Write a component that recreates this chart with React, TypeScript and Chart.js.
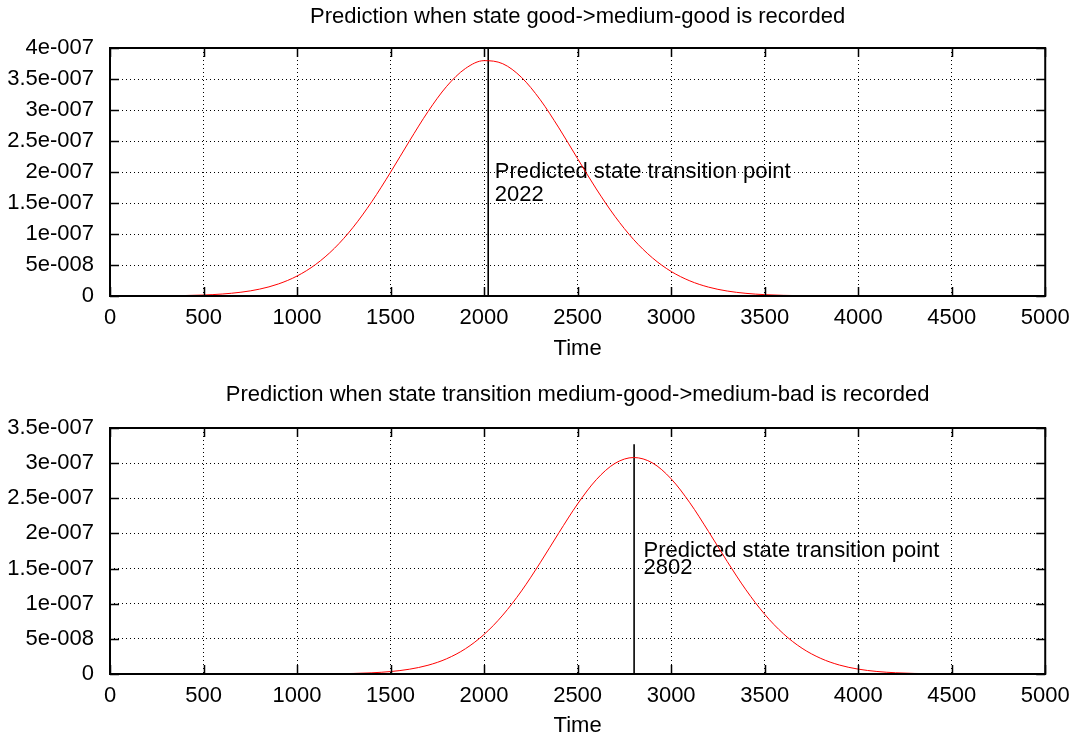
import { useEffect, useRef } from "react";
import { Chart, registerables } from "chart.js";

Chart.register(...registerables);

const FONT = "'Liberation Sans', Arial, Helvetica, sans-serif";

// Sample times shared by both panels
const times = [
  0, 100, 200, 300, 400, 500, 600, 700, 800, 900,
  1000, 1100, 1200, 1300, 1400, 1500, 1600, 1700, 1800, 1900,
  2000, 2100, 2200, 2300, 2400, 2500, 2600, 2700, 2800, 2900,
  3000, 3100, 3200, 3300, 3400, 3500, 3600, 3700, 3800, 3900,
  4000, 4100, 4200, 4300, 4400, 4500, 4600, 4700, 4800, 4900, 5000,
];

// Panel 1: good -> medium-good
const densityGoodToMediumGood = [
  0, 0, 1.5e-10, 3.4e-10, 7.6e-10, 1.59e-9, 3.2e-9, 6.1e-9, 1.11e-8, 1.94e-8,
  3.22e-8, 5.1e-8, 7.7e-8, 1.109e-7, 1.523e-7, 1.996e-7, 2.495e-7, 2.974e-7, 3.382e-7, 3.669e-7,
  3.796e-7, 3.746e-7, 3.526e-7, 3.166e-7, 2.711e-7, 2.215e-7, 1.726e-7, 1.283e-7, 9.09e-8, 6.15e-8,
  3.96e-8, 2.44e-8, 1.43e-8, 8.0e-9, 4.28e-9, 2.18e-9, 1.06e-9, 4.9e-10, 2.2e-10, 9e-11,
  0, 0, 0, 0, 0, 0, 0, 0, 0, 0, 0,
];
const transitionGood = 2022;
const transitionGoodTop = 4e-7;
const labelGoodX = 2057;
const labelGoodY = 2.0e-7;

// Panel 2: medium-good -> medium-bad
const densityMediumGoodToMediumBad = [
  0, 0, 0, 0, 0, 0, 0, 0, 0, 0,
  5.8e-11, 1.5e-10, 3.5e-10, 7.9e-10, 1.71e-9, 3.49e-9, 6.77e-9, 1.244e-8, 2.17e-8, 3.59e-8,
  5.63e-8, 8.38e-8, 1.182e-7, 1.583e-7, 2.01e-7, 2.42e-7, 2.765e-7, 2.997e-7, 3.08e-7, 3.003e-7,
  2.777e-7, 2.436e-7, 2.027e-7, 1.6e-7, 1.197e-7, 8.5e-8, 5.73e-8, 3.66e-8, 2.22e-8, 1.27e-8,
  6.94e-9, 3.59e-9, 1.76e-9, 8.2e-10, 3.6e-10, 1.5e-10, 0, 0, 0, 0, 0,
];
const transitionMedium = 2802;
const transitionMediumTop = 3.27e-7;
const labelMediumX = 2852;
const labelMediumY = 1.75e-7;

// Axis ticks
const xTicks = [0, 500, 1000, 1500, 2000, 2500, 3000, 3500, 4000, 4500, 5000];
const xTickLabels = ["0", "500", "1000", "1500", "2000", "2500", "3000", "3500", "4000", "4500", "5000"];
const yTicksTop = [0, 0.5e-7, 1e-7, 1.5e-7, 2e-7, 2.5e-7, 3e-7, 3.5e-7, 4e-7];
const yTickLabelsTop = ["0", "5e-008", "1e-007", "1.5e-007", "2e-007", "2.5e-007", "3e-007", "3.5e-007", "4e-007"];
const yTicksBottom = [0, 0.5e-7, 1e-7, 1.5e-7, 2e-7, 2.5e-7, 3e-7, 3.5e-7];
const yTickLabelsBottom = ["0", "5e-008", "1e-007", "1.5e-007", "2e-007", "2.5e-007", "3e-007", "3.5e-007"];

const titleTop = "Prediction when state good->medium-good is recorded";
const titleBottom = "Prediction when state transition medium-good->medium-bad is recorded";
const xAxisTitle = "Time";
const annotationText = "Predicted state transition point";

type PanelSpec = {
  title: string;
  titlePadTop: number;
  titlePadBottom: number;
  density: number[];
  transition: number;
  transitionTop: number;
  labelX: number;
  labelY: number;
  labelLineGap: number;
  yTicks: number[];
  yTickLabels: string[];
  xAxisHeight: number;
  xTitlePadBottom: number;
};

// Frame, inward tick marks on all four sides, and the annotation text
const gnuplotDecor = {
  id: "gnuplotDecor",
  beforeDatasetsDraw(chart: any, _args: any, opts: any) {
    const { ctx, scales } = chart;
    const px = scales.x.getPixelForValue(opts.labelX);
    const py = scales.y.getPixelForValue(opts.labelY);
    ctx.save();
    ctx.fillStyle = "#000";
    ctx.font = `22px ${FONT}`;
    ctx.textAlign = "left";
    ctx.textBaseline = "middle";
    ctx.fillText(annotationText, px, py);
    ctx.fillText(String(opts.transition), px, py + opts.lineGap);
    ctx.restore();
  },
  afterDraw(chart: any) {
    const { ctx, chartArea, scales } = chart;
    const { left, right, top, bottom } = chartArea;
    const len = 9;
    ctx.save();
    ctx.strokeStyle = "#000";
    ctx.lineWidth = 1.5;
    ctx.beginPath();
    scales.x.ticks.forEach((t: any) => {
      const x = Math.round(scales.x.getPixelForValue(t.value)) + 0.5;
      ctx.moveTo(x, bottom);
      ctx.lineTo(x, bottom - len);
      ctx.moveTo(x, top);
      ctx.lineTo(x, top + len);
    });
    scales.y.ticks.forEach((t: any) => {
      const y = Math.round(scales.y.getPixelForValue(t.value)) + 0.5;
      ctx.moveTo(left, y);
      ctx.lineTo(left + len, y);
      ctx.moveTo(right, y);
      ctx.lineTo(right - len, y);
    });
    ctx.stroke();
    ctx.lineWidth = 2;
    ctx.strokeRect(left, top, right - left, bottom - top);
    ctx.restore();
  },
};

function buildConfig(spec: PanelSpec): any {
  const curve = times.map((t, i) => ({ x: t, y: spec.density[i] }));
  const marker = [
    { x: spec.transition, y: 0 },
    { x: spec.transition, y: spec.transitionTop },
  ];
  const yMax = spec.yTicks[spec.yTicks.length - 1];
  return {
    type: "line",
    data: {
      datasets: [
        {
          data: curve,
          borderColor: "#ff0000",
          borderWidth: 1,
          pointRadius: 0,
          cubicInterpolationMode: "monotone",
          fill: false,
        },
        {
          data: marker,
          borderColor: "#000",
          borderWidth: 1.6,
          pointRadius: 0,
          fill: false,
        },
      ],
    },
    options: {
      animation: false,
      responsive: false,
      devicePixelRatio: 1,
      events: [],
      layout: { padding: { left: 0, right: 32, top: 0, bottom: 0 } },
      plugins: {
        legend: { display: false },
        tooltip: { enabled: false },
        title: {
          display: true,
          text: spec.title,
          fullSize: false,
          color: "#000",
          font: { family: FONT, size: 22, weight: "normal" },
          padding: { top: spec.titlePadTop, bottom: spec.titlePadBottom },
        },
        gnuplotDecor: {
          labelX: spec.labelX,
          labelY: spec.labelY,
          transition: spec.transition,
          lineGap: spec.labelLineGap,
        },
      },
      scales: {
        x: {
          type: "linear",
          min: 0,
          max: 5000,
          afterBuildTicks: (scale: any) => {
            scale.ticks = xTicks.map((v) => ({ value: v }));
          },
          afterFit: (scale: any) => {
            scale.height = spec.xAxisHeight;
          },
          ticks: {
            autoSkip: false,
            maxRotation: 0,
            padding: 8.3,
            color: "#000",
            font: { family: FONT, size: 22 },
            callback: (_v: any, i: number) => xTickLabels[i],
          },
          grid: {
            color: "#000",
            lineWidth: 1,
            drawTicks: false,
          },
          border: { display: false, dash: [1, 3] },
          title: {
            display: true,
            text: xAxisTitle,
            color: "#000",
            font: { family: FONT, size: 22 },
            padding: { top: 0, bottom: spec.xTitlePadBottom },
          },
        },
        y: {
          type: "linear",
          min: 0,
          max: yMax,
          afterBuildTicks: (scale: any) => {
            scale.ticks = spec.yTicks.map((v) => ({ value: v }));
          },
          afterFit: (scale: any) => {
            scale.width = 110;
          },
          ticks: {
            autoSkip: false,
            padding: 16,
            color: "#000",
            font: { family: FONT, size: 22 },
            callback: (_v: any, i: number) => spec.yTickLabels[i],
          },
          grid: {
            color: "#000",
            lineWidth: 1,
            drawTicks: false,
          },
          border: { display: false, dash: [1, 3] },
        },
      },
    },
    plugins: [gnuplotDecor],
  };
}

function Panel({ spec }: { spec: PanelSpec }) {
  const ref = useRef<HTMLCanvasElement>(null);
  useEffect(() => {
    const chart = new Chart(ref.current as HTMLCanvasElement, buildConfig(spec));
    return () => chart.destroy();
  }, [spec]);
  return (
    <canvas
      ref={ref}
      width={1078}
      height={370}
      style={{ display: "block", width: 1078, height: 370 }}
    />
  );
}

const topSpec: PanelSpec = {
  title: titleTop,
  titlePadTop: 3.8,
  titlePadBottom: 17.8,
  density: densityGoodToMediumGood,
  transition: transitionGood,
  transitionTop: transitionGoodTop,
  labelX: labelGoodX,
  labelY: labelGoodY,
  labelLineGap: 23,
  yTicks: yTicksTop,
  yTickLabels: yTickLabelsTop,
  xAxisHeight: 74,
  xTitlePadBottom: 7.8,
};

const bottomSpec: PanelSpec = {
  title: titleBottom,
  titlePadTop: 11.8,
  titlePadBottom: 19.8,
  density: densityMediumGoodToMediumBad,
  transition: transitionMedium,
  transitionTop: transitionMediumTop,
  labelX: labelMediumX,
  labelY: labelMediumY,
  labelLineGap: 17,
  yTicks: yTicksBottom,
  yTickLabels: yTickLabelsBottom,
  xAxisHeight: 66,
  xTitlePadBottom: 0.8,
};

export default function App() {
  return (
    <div
      style={{
        position: "fixed",
        left: 0,
        top: 0,
        width: 1078,
        height: 740,
        background: "#fff",
      }}
    >
      <Panel spec={topSpec} />
      <Panel spec={bottomSpec} />
    </div>
  );
}
